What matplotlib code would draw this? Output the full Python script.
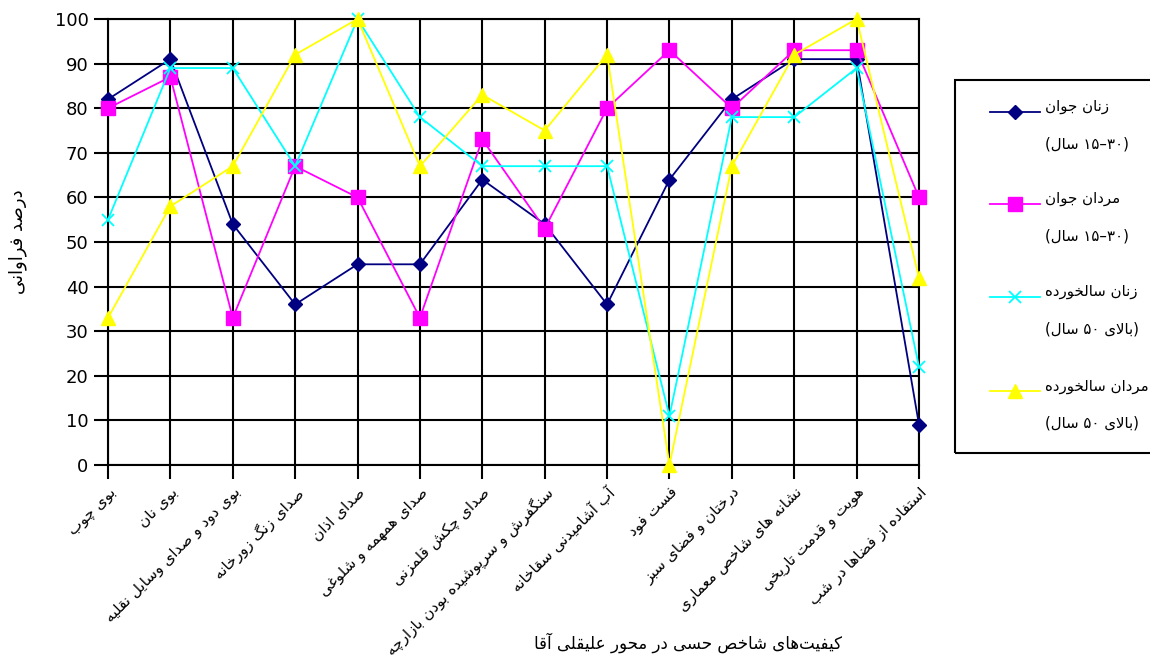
import re
import matplotlib
matplotlib.use('Agg')
import matplotlib.pyplot as plt
from matplotlib.lines import Line2D
from matplotlib.patches import Rectangle

plt.rcParams['font.family'] = ['DejaVu Sans']

# Data
categories = [
    'بوی چوب',
    'بوی نان',
    'بوی دود و صدای وسایل نقلیه',
    'صدای زنگ زورخانه',
    'صدای اذان',
    'صدای همهمه و شلوغی',
    'صدای چکش قلمزنی',
    'سنگفرش و سرپوشیده بودن بازارچه',
    'آب آشامیدنی سقاخانه',
    'فست فود',
    'درختان و فضای سبز',
    'نشانه های شاخص معماری',
    'هویت و قدمت تاریخی',
    'استفاده از فضاها در شب',
]
young_women = [82, 91, 54, 36, 45, 45, 64, 54, 36, 64, 82, 91, 91, 9]
young_men = [80, 87, 33, 67, 60, 33, 73, 53, 80, 93, 80, 93, 93, 60]
old_women = [55, 89, 89, 67, 100, 78, 67, 67, 67, 11, 78, 78, 89, 22]
old_men = [33, 58, 67, 92, 100, 67, 83, 75, 92, 0, 67, 92, 100, 42]

series_names = ['زنان جوان', 'مردان جوان', 'زنان سالخورده', 'مردان سالخورده']
series_ages = ['(۳۰–۱۵ سال)', '(۳۰–۱۵ سال)', '(بالای ۵۰ سال)', '(بالای ۵۰ سال)']
xlabel = 'کیفیت‌های شاخص حسی در محور علیقلی آقا'
ylabel = 'درصد فراوانی'

# --- minimal Persian shaping (matplotlib has no Arabic shaping / bidi) ---
# letter: (isolated, final, initial, medial); None = does not join forward
FORMS = {
    'ا': (0xFE8D, 0xFE8E, None, None), 'آ': (0xFE81, 0xFE82, None, None),
    'ب': (0xFE8F, 0xFE90, 0xFE91, 0xFE92), 'پ': (0xFB56, 0xFB57, 0xFB58, 0xFB59),
    'ت': (0xFE95, 0xFE96, 0xFE97, 0xFE98), 'ث': (0xFE99, 0xFE9A, 0xFE9B, 0xFE9C),
    'ج': (0xFE9D, 0xFE9E, 0xFE9F, 0xFEA0), 'چ': (0xFB7A, 0xFB7B, 0xFB7C, 0xFB7D),
    'ح': (0xFEA1, 0xFEA2, 0xFEA3, 0xFEA4), 'خ': (0xFEA5, 0xFEA6, 0xFEA7, 0xFEA8),
    'د': (0xFEA9, 0xFEAA, None, None), 'ذ': (0xFEAB, 0xFEAC, None, None),
    'ر': (0xFEAD, 0xFEAE, None, None), 'ز': (0xFEAF, 0xFEB0, None, None),
    'ژ': (0xFB8A, 0xFB8B, None, None),
    'س': (0xFEB1, 0xFEB2, 0xFEB3, 0xFEB4), 'ش': (0xFEB5, 0xFEB6, 0xFEB7, 0xFEB8),
    'ص': (0xFEB9, 0xFEBA, 0xFEBB, 0xFEBC), 'ض': (0xFEBD, 0xFEBE, 0xFEBF, 0xFEC0),
    'ط': (0xFEC1, 0xFEC2, 0xFEC3, 0xFEC4), 'ظ': (0xFEC5, 0xFEC6, 0xFEC7, 0xFEC8),
    'ع': (0xFEC9, 0xFECA, 0xFECB, 0xFECC), 'غ': (0xFECD, 0xFECE, 0xFECF, 0xFED0),
    'ف': (0xFED1, 0xFED2, 0xFED3, 0xFED4), 'ق': (0xFED5, 0xFED6, 0xFED7, 0xFED8),
    'ک': (0xFB8E, 0xFB8F, 0xFB90, 0xFB91), 'گ': (0xFB92, 0xFB93, 0xFB94, 0xFB95),
    'ل': (0xFEDD, 0xFEDE, 0xFEDF, 0xFEE0), 'م': (0xFEE1, 0xFEE2, 0xFEE3, 0xFEE4),
    'ن': (0xFEE5, 0xFEE6, 0xFEE7, 0xFEE8), 'و': (0xFEED, 0xFEEE, None, None),
    'ه': (0xFEE9, 0xFEEA, 0xFEEB, 0xFEEC), 'ی': (0xFBFC, 0xFBFD, 0xFBFE, 0xFBFF),
}
LAM_ALEF = {'ا': (0xFEFB, 0xFEFC), 'آ': (0xFEF5, 0xFEF6)}


def shape(s):
    out = []
    i = 0
    n = len(s)
    while i < n:
        c = s[i]
        if c not in FORMS:
            if c != '\u200c':
                out.append(c)
            i += 1
            continue
        prev = s[i - 1] if i > 0 else ''
        joins_prev = prev in FORMS and FORMS[prev][2] is not None
        if c == 'ل' and i + 1 < n and s[i + 1] in LAM_ALEF:
            iso, fin = LAM_ALEF[s[i + 1]]
            out.append(chr(fin if joins_prev else iso))
            i += 2
            continue
        nxt = s[i + 1] if i + 1 < n else ''
        joins_next = FORMS[c][2] is not None and nxt in FORMS
        iso, fin, ini, med = FORMS[c]
        if joins_prev and joins_next:
            out.append(chr(med))
        elif joins_prev:
            out.append(chr(fin))
        elif joins_next:
            out.append(chr(ini))
        else:
            out.append(chr(iso))
        i += 1
    return ''.join(out)


def fa(s):
    tokens = re.findall(r'[0-9\u06f0-\u06f9]+|.', shape(s))
    mirror = {'(': ')', ')': '('}
    return ''.join(mirror.get(t, t) for t in reversed(tokens))


fig = plt.figure(figsize=(11.5, 6.59), dpi=100)
ax = fig.add_axes([108 / 1150, 1 - 465 / 659, (919 - 108) / 1150, (465 - 19) / 659])

x = list(range(len(categories)))
styles = [
    (young_women, '#000080', 'D', 7, 1.0),
    (young_men, '#FF00FF', 's', 9.5, 1.0),
    (old_women, '#00FFFF', 'x', 9, 1.3),
    (old_men, '#FFFF00', '^', 10, 1.0),
]
for vals, col, mk, ms, mew in styles:
    ax.plot(x, vals, color=col, lw=1.3, marker=mk, markersize=ms,
            markeredgewidth=mew, markerfacecolor=col, markeredgecolor=col,
            clip_on=False, zorder=3)

ax.set_xlim(0, len(categories) - 1)
ax.set_ylim(0, 100)
ax.set_yticks(range(0, 101, 10))
ax.set_xticks(x)
ax.grid(True, color='black', lw=1.5)
ax.set_axisbelow(True)
for sp in ax.spines.values():
    sp.set_color('black')
    sp.set_linewidth(1.5)
ax.tick_params(axis='both', length=10, width=1.5, color='black')
ax.tick_params(axis='y', labelsize=13, pad=4)
ax.set_xticklabels([fa(c) for c in categories], rotation=45, ha='right',
                   va='top', rotation_mode='anchor', fontsize=11)
ax.tick_params(axis='x', pad=4)

fig.text(18 / 1150, 1 - 242 / 659, fa(ylabel), rotation=90, ha='center',
         va='center', fontsize=13)
fig.text(688 / 1150, 1 - 643 / 659, fa(xlabel), ha='center', va='center',
         fontsize=12)

# legend box, running off the right edge as in the original
fig.patches.append(Rectangle((955 / 1150, 1 - 453 / 659), 250 / 1150,
                             (453 - 80) / 659, transform=fig.transFigure,
                             fill=False, edgecolor='black', lw=1.5))
line_ys = [112, 204, 297, 391]
for (vals, col, mk, ms, mew), name, age, ly in zip(styles, series_names,
                                                     series_ages, line_ys):
    fig.lines.append(Line2D([990 / 1150, 1040 / 1150],
                            [1 - ly / 659, 1 - ly / 659],
                            transform=fig.transFigure, color=col, lw=1.3))
    fig.lines.append(Line2D([1015 / 1150], [1 - ly / 659],
                            transform=fig.transFigure, color=col, marker=mk,
                            markersize=ms, markeredgewidth=mew,
                            markerfacecolor=col, markeredgecolor=col))
    fig.text(1045 / 1150, 1 - (ly - 5) / 659, fa(name), ha='left',
             va='center', fontsize=10.8)
    fig.text(1045 / 1150, 1 - (ly + 32) / 659, fa(age), ha='left',
             va='center', fontsize=10.8)

fig.savefig('out.png', dpi=100)
